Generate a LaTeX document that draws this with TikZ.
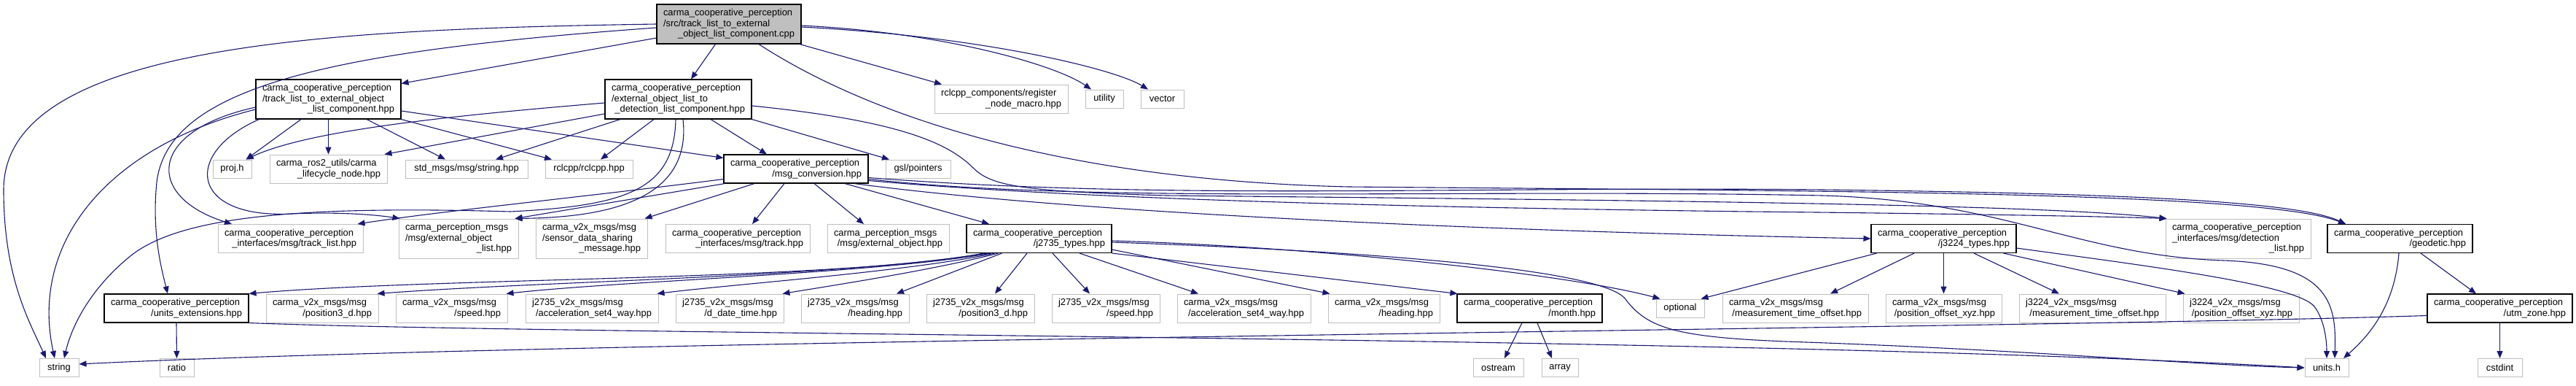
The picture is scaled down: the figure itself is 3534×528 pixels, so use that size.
\documentclass[tikz,border=0pt]{standalone}
\usepackage{fontspec}
\setmainfont{Liberation Sans}
\usetikzlibrary{arrows.meta}
\definecolor{edgecol}{RGB}{25,25,112}
\definecolor{gborder}{RGB}{191,191,191}
\definecolor{rootfill}{RGB}{191,191,191}
\newcommand\cl[1]{\hspace*{\fill}#1\hspace*{\fill}}
\begin{document}
\begin{tikzpicture}[x=1pt,y=-1pt,
 box/.style={draw=gborder, fill=white, line width=1pt, inner xsep=9pt, inner ysep=0pt, font=\fontsize{12.9}{14.5}\selectfont, align=left},
 dk/.style={draw=black, line width=1.1pt},
 one/.style={minimum height=25pt, align=center},
 two/.style={minimum height=39pt},
 three/.style={minimum height=54pt},
 e/.style={draw=edgecol, line width=1.1pt, -{Triangle[length=10pt,width=8pt]}}]
\fill[white] (0,0) rectangle (3534,528);
\path[use as bounding box] (0,0) rectangle (3534,528);

% rank 0
\node[box,dk,three,fill=rootfill,text width=180pt] (root) at (1000,33) {carma\_cooperative\_perception\\/src/track\_list\_to\_external\\\cl{\_object\_list\_component.cpp}};
% rank 1
\node[box,dk,three,text width=181pt] (TL) at (450.5,136) {carma\_cooperative\_perception\\/track\_list\_to\_external\_object\\\cl{\_list\_component.hpp}};
\node[box,dk,three,text width=183pt] (EX) at (930.5,136) {carma\_cooperative\_perception\\/external\_object\_list\_to\\\cl{\_detection\_list\_component.hpp}};
\node[box,two,text width=165pt] (reg) at (1373.5,135.5) {rclcpp\_components/register\\\cl{\_node\_macro.hpp}};
\node[box,one,minimum width=52pt] (util) at (1515,135.5) {utility};
\node[box,one,minimum width=59pt] (vec) at (1594.5,135.5) {vector};
% rank 2
\node[box,one,minimum width=53pt] (proj) at (318.5,231.5) {proj.h};
\node[box,two,text width=143pt] (life) at (450.5,231.5) {carma\_ros2\_utils/carma\\\cl{\_lifecycle\_node.hpp}};
\node[box,one,minimum width=168pt] (stdstr) at (640,231.5) {std\_msgs/msg/string.hpp};
\node[box,one,minimum width=120pt] (rcl) at (808,231.5) {rclcpp/rclcpp.hpp};
\node[box,dk,two,text width=180pt] (MC) at (1092,231.5) {carma\_cooperative\_perception\\\cl{/msg\_conversion.hpp}};
\node[box,one,minimum width=89pt] (gsl) at (1259.5,231.5) {gsl/pointers};
% rank 3
\node[box,two,text width=181pt] (tlist) at (398.5,327) {carma\_cooperative\_perception\\\cl{\_interfaces/msg/track\_list.hpp}};
\node[box,three,text width=146pt] (eol) at (629,327) {carma\_perception\_msgs\\/msg/external\_object\\\cl{\_list.hpp}};
\node[box,three,text width=135pt] (sdsm) at (811.5,327) {carma\_v2x\_msgs/msg\\/sensor\_data\_sharing\\\cl{\_message.hpp}};
\node[box,two,text width=180pt] (track) at (1012,327) {carma\_cooperative\_perception\\\cl{\_interfaces/msg/track.hpp}};
\node[box,two,text width=149pt] (eo) at (1218.5,327) {carma\_perception\_msgs\\\cl{/msg/external\_object.hpp}};
\node[box,dk,two,text width=181pt] (j2735) at (1425.5,327) {carma\_cooperative\_perception\\\cl{/j2735\_types.hpp}};
\node[box,dk,two,text width=181pt] (j3224) at (2666.5,327) {carma\_cooperative\_perception\\\cl{/j3224\_types.hpp}};
\node[box,three,text width=181pt] (det) at (3070.5,327) {carma\_cooperative\_perception\\\_interfaces/msg/detection\\\cl{\_list.hpp}};
\node[box,dk,two,text width=181pt] (geo) at (3292.5,327) {carma\_cooperative\_perception\\\cl{/geodetic.hpp}};
% rank 4
\node[box,dk,two,text width=180pt] (uext) at (242,422.5) {carma\_cooperative\_perception\\\cl{/units\_extensions.hpp}};
\node[box,two,text width=136pt] (cpos) at (442,422.5) {carma\_v2x\_msgs/msg\\\cl{/position3\_d.hpp}};
\node[box,two,text width=135pt] (cspd) at (619.5,422.5) {carma\_v2x\_msgs/msg\\\cl{/speed.hpp}};
\node[box,two,text width=164pt] (jacc) at (812,422.5) {j2735\_v2x\_msgs/msg\\\cl{/acceleration\_set4\_way.hpp}};
\node[box,two,text width=130pt] (jddt) at (1001,422.5) {j2735\_v2x\_msgs/msg\\\cl{/d\_date\_time.hpp}};
\node[box,two,text width=130pt] (jhead) at (1173,422.5) {j2735\_v2x\_msgs/msg\\\cl{/heading.hpp}};
\node[box,two,text width=130pt] (jpos) at (1345,422.5) {j2735\_v2x\_msgs/msg\\\cl{/position3\_d.hpp}};
\node[box,two,text width=130pt] (jspd) at (1517,422.5) {j2735\_v2x\_msgs/msg\\\cl{/speed.hpp}};
\node[box,two,text width=165pt] (cacc) at (1706.5,422.5) {carma\_v2x\_msgs/msg\\\cl{/acceleration\_set4\_way.hpp}};
\node[box,two,text width=135pt] (chead) at (1898.5,422.5) {carma\_v2x\_msgs/msg\\\cl{/heading.hpp}};
\node[box,dk,two,text width=181pt] (month) at (2098.5,422.5) {carma\_cooperative\_perception\\\cl{/month.hpp}};
\node[box,one,minimum width=66pt] (opt) at (2305,422.5) {optional};
\node[box,two,text width=182pt] (cmto) at (2463,422.5) {carma\_v2x\_msgs/msg\\\cl{/measurement\_time\_offset.hpp}};
\node[box,two,text width=141pt] (cpox) at (2666.5,422.5) {carma\_v2x\_msgs/msg\\\cl{/position\_offset\_xyz.hpp}};
\node[box,two,text width=183pt] (jmto) at (2870.5,422.5) {j3224\_v2x\_msgs/msg\\\cl{/measurement\_time\_offset.hpp}};
\node[box,two,text width=141pt] (jpox) at (3074.5,422.5) {j3224\_v2x\_msgs/msg\\\cl{/position\_offset\_xyz.hpp}};
\node[box,dk,two,text width=181pt] (utm) at (3429.5,422.5) {carma\_cooperative\_perception\\\cl{/utm\_zone.hpp}};
% rank 5
\node[box,one,minimum width=54pt] (str) at (81,504) {string};
\node[box,one,minimum width=47pt] (ratio) at (242.5,504) {ratio};
\node[box,one,minimum width=69pt] (ostr) at (2055.5,504) {ostream};
\node[box,one,minimum width=50pt] (arr) at (2140,504) {array};
\node[box,one,minimum width=60pt] (unith) at (3192,504) {units.h};
\node[box,one,minimum width=61pt] (cstd) at (3429.5,504) {cstdint};

% root edges
\draw[e] ([yshift=-19pt]root.west) -- ([yshift=-6pt]TL.north east);
\draw[e] ([xshift=-18.5pt]root.south) -- ([xshift=17.5pt]EX.north);
\draw[e] (root.west) .. controls (450,40) and (5,60) .. (5,260) .. controls (5,380) and (40,440) .. ([xshift=-18pt]str.north);
\draw[e] ([yshift=-5pt]root.west) .. controls (450,70) and (230,120) .. (215,250) .. controls (208,320) and (222,370) .. ([xshift=-12pt]uext.north);
\draw[e] ([xshift=97pt]root.south) -- ([xshift=-81.5pt]reg.north);
\draw[e] ([yshift=-2pt]root.east) .. controls (1300,45) and (1450,90) .. ([xshift=-18pt]util.north);
\draw[e] ([yshift=-4pt]root.east) .. controls (1350,50) and (1530,95) .. ([xshift=-19.5pt]vec.north);
\draw[e] ([xshift=41pt]root.south) .. controls (1140,125) and (1380,245) .. (1850,256) .. controls (2500,262) and (3100,262) .. ([xshift=-74.5pt]geo.north);

% TL edges
\draw[e] ([yshift=-14pt]TL.west) .. controls (150,200) and (40,330) .. ([xshift=-6pt]str.north);
\draw[e] ([yshift=-11pt]TL.west) .. controls (200,180) and (200,270) .. ([xshift=-80.5pt]tlist.north);
\draw[e] ([xshift=5pt]TL.south west) .. controls (250,210) and (260,300) .. (400,293) .. controls (470,290) and (520,295) .. ([xshift=2pt]eol.north west);
\draw[e] ([xshift=-37.5pt]TL.south) -- ([xshift=-8pt]proj.north east);
\draw[e] (TL.south) -- (life.north);
\draw[e] ([xshift=52.5pt]TL.south) -- ([xshift=-29pt]stdstr.north);
\draw[e] ([yshift=-16pt]TL.east) -- ([yshift=-5pt]MC.north west);
\draw[e] (TL.south east) -- ([xshift=-51pt]rcl.north);

% EX edges
\draw[e] ([yshift=-5pt]EX.west) .. controls (600,160) and (420,180) .. ([xshift=-8pt]proj.north east);
\draw[e] ([yshift=-20pt]EX.west) -- ([xshift=-4pt]life.north east);
\draw[e] ([xshift=-79.5pt]EX.south) -- ([xshift=40pt]stdstr.north);
\draw[e] ([xshift=-33.5pt]EX.south) -- ([xshift=16pt]rcl.north);
\draw[e] ([xshift=44.5pt]EX.south) -- ([xshift=-40pt]MC.north);
\draw[e] ([xshift=-3.5pt]EX.south) .. controls (925,260) and (860,282) .. (700,290) .. controls (420,282) and (250,295) .. (180,350) .. controls (130,390) and (100,440) .. ([xshift=7pt]str.north);
\draw[e] ([xshift=6.5pt]EX.south) .. controls (950,280) and (820,298) .. ([xshift=-5pt]eol.north east);
\draw[e] (EX.south east) -- ([xshift=-39.5pt]gsl.north);
\draw[e] ([yshift=-9pt]EX.east) .. controls (1230,165) and (1300,195) .. (1335,230) .. controls (1360,255) and (1400,262) .. (1600,268) .. controls (2300,275) and (2800,280) .. ([xshift=2pt]det.north west);

% MC edges
\draw[e] ([yshift=-14pt]MC.west) .. controls (800,270) and (600,290) .. ([xshift=-8pt]tlist.north east);
\draw[e] ([xshift=2pt]MC.south west) -- ([xshift=-5pt]eol.north east);
\draw[e] ([xshift=-57pt]MC.south) -- ([xshift=-4pt]sdsm.north east);
\draw[e] ([xshift=-16pt]MC.south) -- ([xshift=20pt]track.north);
\draw[e] ([xshift=25pt]MC.south) -- ([xshift=-33.5pt]eo.north);
\draw[e] ([xshift=67pt]MC.south) -- ([xshift=-68.5pt]j2735.north);
\draw[e] ([xshift=80pt]MC.south) .. controls (1500,295) and (2100,318) .. (j3224.west);
\draw[e] ([yshift=-16pt]MC.east) .. controls (1500,275) and (2000,285) .. (2400,290) .. controls (2700,293) and (2900,297) .. ([xshift=2pt]det.north west);
\draw[e] ([yshift=-12pt]MC.east) .. controls (1600,275) and (2000,255) .. (2500,260) .. controls (2900,265) and (3150,275) .. ([xshift=-74.5pt]geo.north);
\draw[e] ([yshift=-14pt]MC.east) .. controls (1500,280) and (2000,258) .. (2500,268) .. controls (2750,275) and (2850,350) .. (3050,357) .. controls (3200,362) and (3205,420) .. ([xshift=11pt]unith.north);

% j2735 edges
\draw[e] ([xshift=-76pt]j2735.south) .. controls (1150,385) and (600,380) .. (uext.north east);
\draw[e] ([xshift=-71pt]j2735.south) .. controls (1150,380) and (750,385) .. ([xshift=-2pt]cpos.north east);
\draw[e] ([xshift=-66pt]j2735.south) .. controls (1200,375) and (850,385) .. ([xshift=-2pt]cspd.north east);
\draw[e] ([xshift=-61pt]j2735.south) .. controls (1250,372) and (1000,390) .. ([xshift=-2pt]jacc.north east);
\draw[e] ([xshift=-56pt]j2735.south) .. controls (1280,370) and (1150,390) .. ([xshift=-2pt]jddt.north east);
\draw[e] ([xshift=-51pt]j2735.south) -- ([xshift=57pt]jhead.north);
\draw[e] ([xshift=-16.5pt]j2735.south) -- ([xshift=20pt]jpos.north);
\draw[e] ([xshift=18.5pt]j2735.south) -- ([xshift=-22pt]jspd.north);
\draw[e] ([xshift=55.5pt]j2735.south) -- ([xshift=-62.5pt]cacc.north);
\draw[e] ([yshift=-15pt]j2735.east) -- ([xshift=3pt]chead.north west);
\draw[e] (j2735.south east) -- ([xshift=1pt]month.north west);
\draw[e] ([yshift=-3pt]j2735.east) .. controls (1800,338) and (2150,375) .. ([xshift=6pt]opt.north west);
\draw[e] ([yshift=-5pt]j2735.east) .. controls (1900,345) and (2200,370) .. (2230,410) .. controls (2260,450) and (2300,462) .. (2450,468) .. controls (2800,480) and (3000,500) .. (unith.west);

% other edges
\draw[e] (uext.south east) .. controls (800,460) and (2400,460) .. (unith.west);
\draw[e] (uext.south) -- (ratio.north);
\draw[e] ([xshift=-10.5pt]month.south) -- ([xshift=8.5pt]ostr.north);
\draw[e] ([xshift=10.5pt]month.south) -- ([xshift=-11pt]arr.north);
\draw[e] ([xshift=8pt]j3224.south west) -- ([xshift=-5pt]opt.north east);
\draw[e] ([xshift=-40.5pt]j3224.south) -- ([xshift=48pt]cmto.north);
\draw[e] (j3224.south) -- (cpox.north);
\draw[e] ([xshift=41.5pt]j3224.south) -- ([xshift=-45.5pt]jmto.north);
\draw[e] ([xshift=-18pt]j3224.south east) -- ([xshift=3pt]jpox.north west);
\draw[e] ([yshift=-13pt]j3224.east) .. controls (2950,365) and (3150,390) .. (3175,420) .. controls (3190,440) and (3192,470) .. (unith.north);
\draw[e] ([xshift=28.5pt]geo.south) -- ([xshift=-32.5pt]utm.north);
\draw[e] ([xshift=-1.5pt]geo.south) .. controls (3285,420) and (3250,460) .. ([xshift=23pt]unith.north);
\draw[e] (utm.south) -- (cstd.north);
\draw[e] ([yshift=-10pt]utm.west) .. controls (2800,450) and (800,465) .. ([yshift=5pt]str.east);
\end{tikzpicture}
\end{document}
